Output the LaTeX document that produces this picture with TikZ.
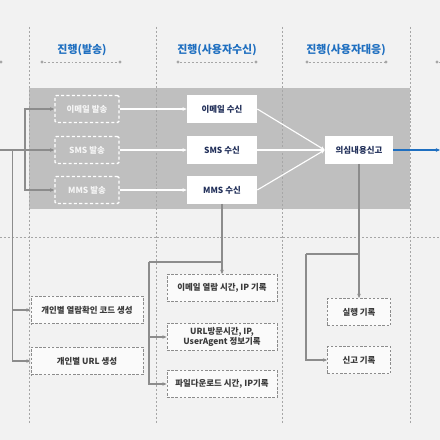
\documentclass[tikz,border=0pt]{standalone}
\usepackage{fontspec}
\setmainfont{Noto Sans CJK KR}
\usetikzlibrary{arrows.meta,positioning,calc}
\definecolor{bgGray}{HTML}{F2F2F2}
\definecolor{bandGray}{HTML}{BFBFBF}
\definecolor{lineGray}{HTML}{8C8C8C}
\definecolor{dotGray}{HTML}{A6A6A6}
\definecolor{headBlue}{HTML}{1F6FC0}
\definecolor{navyText}{HTML}{22305A}
\definecolor{darkText}{HTML}{3A3A3A}
\tikzset{
  boxfont/.style={font=\fontsize{6}{7.4}\selectfont},
  sendbox/.style={draw=white, line width=1pt, dash pattern=on 2.2pt off 1.6pt,
    rounded corners=1pt, text=white!96!black, font=\fontsize{6}{7.4}\selectfont\bfseries,
    minimum width=1.6cm, minimum height=.675cm},
  recvbox/.style={fill=white, text=navyText, font=\fontsize{6}{7.4}\selectfont\bfseries,
    minimum width=1.75cm, minimum height=.675cm},
  logbox/.style={draw=lineGray, fill=white!98!black, line width=.6pt, dash pattern=on 1.8pt off 1.2pt,
    text=darkText, font=\fontsize{6}{7.4}\selectfont\bfseries, align=center, minimum height=.68cm},
  headtext/.style={text=headBlue, font=\fontsize{7.8}{9}\selectfont\bfseries},
  gridline/.style={draw=dotGray, line width=.5pt, dash pattern=on 1.4pt off 1.4pt},
  gline/.style={draw=lineGray, line width=.8pt},
  garrow/.style={gline, -{Stealth[length=3pt,width=2.6pt]}},
  warrow/.style={draw=white, line width=.8pt, -{Stealth[length=3pt,width=2.6pt]}},
  enddot/.style={circle, fill=dotGray, inner sep=0pt, minimum size=2.4pt},
}
\begin{document}
\begin{tikzpicture}[x=0.025cm, y=-0.025cm]
  \useasboundingbox (0,0) rectangle (440,440);
  \fill[bgGray] (0,0) rectangle (440,440);
  \fill[bandGray] (29,88) rectangle (410,209);

  % grid
  \foreach \gx in {29,156,282,410}
    \draw[gridline] (\gx,27) -- (\gx,424);
  \draw[gridline] (0,237) -- (440,237);

  % headers
  \node[headtext] (head1) at (82,50) {진행(발송)};
  \node[headtext] (head2) at (217,50) {진행(사용자수신)};
  \node[headtext] (head3) at (346,50) {진행(사용자대응)};
  \foreach \ha/\hb in {42/120,178/256,307/386} {
    \node[enddot] (hl) at (\ha,62) {};
    \node[enddot] (hr) at (\hb,62) {};
    \draw[gridline] (hl) -- (hr);
  }
  \node[enddot] (hleft) at (1,62) {};
  \node[enddot] (hright) at (437,62) {};
  \coordinate (hedge) at (440,62);
  \draw[gridline] (hright) -- (hedge);

  % sending
  \node[sendbox] (send1) at (87,109) {이메일 발송};
  \node[sendbox] (send2) at (87,150) {SMS 발송};
  \node[sendbox] (send3) at (87,190) {MMS 발송};

  % receiving
  \node[recvbox] (recv1) at (222,109) {이메일 수신};
  \node[recvbox] (recv2) at (222,150) {SMS 수신};
  \node[recvbox] (recv3) at (222,190) {MMS 수신};

  \node[recvbox, minimum width=1.7cm] (report) at (359,150) {의심내용신고};

  % logs
  \node[logbox, minimum width=2.8cm] (code) at (87,310) {개인별 열람확인 코드 생성};
  \node[logbox, minimum width=2.8cm] (url) at (87,361) {개인별 URL 생성};
  \node[logbox, minimum width=2.75cm] (log1) at (222,288) {이메일 열람 시간, IP 기록};
  \node[logbox, minimum width=2.75cm, inner sep=1pt] (log2) at (222,337) {URL방문시간, IP,\\UserAgent 정보기록};
  \node[logbox, minimum width=2.75cm] (log3) at (222,384) {파일다운로드 시간, IP기록};
  \node[logbox, minimum width=1.575cm] (exec) at (359,312) {실행 기록};
  \node[logbox, minimum width=1.575cm] (rep) at (359,360) {신고 기록};

  % left feed
  \coordinate (in) at (0,150);
  \coordinate (j1) at (25,150);
  \coordinate (j2) at (12.7,150);
  \draw[garrow] (in) -- (send2);
  \draw[garrow] (j1) |- (send1);
  \draw[garrow] (j1) |- (send3);
  \draw[garrow] (j2) |- (code);
  \draw[garrow] (j2) |- (url);

  % send -> receive -> report
  \foreach \i in {1,2,3} {
    \draw[warrow] (send\i) -- (recv\i);
    \draw[warrow] (recv\i.east) -- (report.west);
  }
  \coordinate (out) at (440,150);
  \draw[headBlue, line width=.9pt, -{Stealth[length=3pt,width=2.6pt]}] (report) -- (out);

  % receive -> logs
  \coordinate (j3) at (222,262);
  \coordinate (j4) at (149,262);
  \draw[garrow] (recv3) -- (log1);
  \draw[gline] (j3) -- (j4);
  \draw[garrow] (j4) |- (log2);
  \draw[garrow] (j4) |- (log3);

  % report -> logs
  \coordinate (j5) at (359,254);
  \coordinate (j6) at (306,254);
  \draw[garrow] (report) -- (exec);
  \draw[gline] (j5) -- (j6);
  \draw[garrow] (j6) |- (rep);
\end{tikzpicture}
\end{document}
